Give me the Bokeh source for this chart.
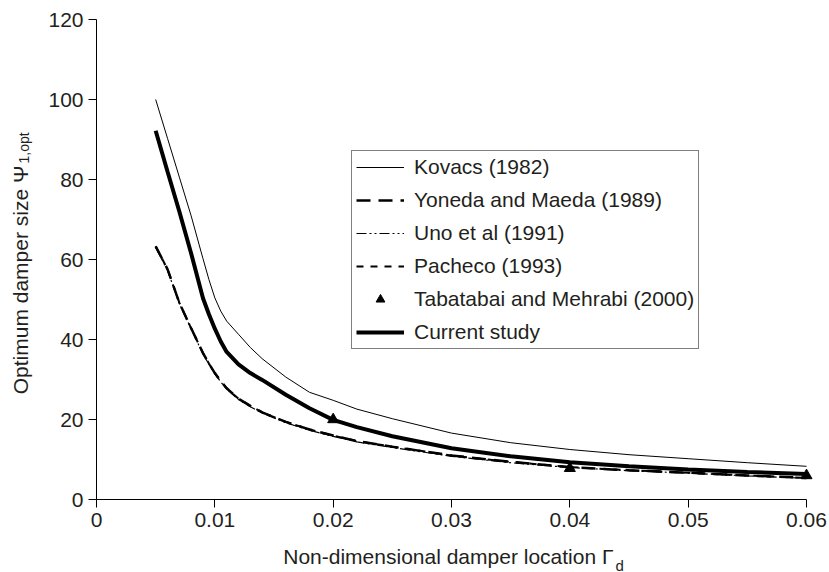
import math
from bokeh.plotting import figure
from bokeh.models import Legend, LegendItem, Label, FixedTicker, Range1d, LinearAxis
from bokeh.embed import file_html
from bokeh.resources import INLINE

# ---- data ----
gamma = [0.005, 0.006, 0.007, 0.008, 0.009, 0.0095, 0.010, 0.0105, 0.011, 0.012,
         0.013, 0.014, 0.016, 0.018, 0.020, 0.022, 0.025, 0.030, 0.035, 0.040,
         0.045, 0.050, 0.055, 0.060]
kovacs = [100.0, 90.3, 80.6, 70.9, 60.2, 55.0, 50.4, 47.1, 44.6, 41.3,
          38.0, 35.2, 30.6, 26.8, 24.8, 22.6, 20.2, 16.6, 14.2, 12.5,
          11.2, 10.2, 9.2, 8.3]
current = [92.2, 82.0, 72.0, 61.5, 50.3, 46.3, 42.7, 39.5, 36.9, 33.8,
           31.6, 29.9, 26.2, 22.8, 19.9, 18.1, 15.8, 12.8, 10.8, 9.3,
           8.3, 7.5, 6.9, 6.4]
yoneda = [63.3, 57.6, 49.2, 42.8, 36.6, 34.0, 31.6, 29.6, 27.8, 25.2,
          23.4, 21.8, 19.4, 17.5, 16.0, 14.6, 13.2, 11.0, 9.4, 8.1,
          7.3, 6.7, 6.0, 5.4]
uno = [63.0, 57.3, 49.0, 42.6, 36.4, 33.8, 31.4, 29.4, 27.6, 25.0,
       23.2, 21.6, 19.2, 17.3, 15.8, 14.4, 13.0, 10.8, 9.2, 8.0,
       7.2, 6.6, 5.9, 5.3]
pacheco = [63.3, 57.6, 49.2, 42.8, 36.6, 34.0, 31.6, 29.6, 27.8, 25.2,
           23.4, 21.8, 19.4, 17.5, 16.0, 14.6, 13.2, 11.0, 9.4, 8.1,
           7.3, 6.7, 6.0, 5.4]
tab_gamma = [0.02, 0.04, 0.06]
tab_psi = [20.0, 7.8, 6.0]

x_ticks = [0, 0.01, 0.02, 0.03, 0.04, 0.05, 0.06]
x_tick_labels = ["0", "0.01", "0.02", "0.03", "0.04", "0.05", "0.06"]
y_ticks = [0, 20, 40, 60, 80, 100, 120]

series_names = ["Kovacs (1982)", "Yoneda and Maeda (1989)", "Uno et al (1991)",
                "Pacheco (1993)", "Tabatabai and Mehrabi (2000)", "Current study"]

FONT = "Liberation Sans"
TXT = "#231f20"

# ---- layout: frame covers the whole canvas, axes are pinned at the data origin ----
W, H = 829, 572
LEFT, RIGHT, TOP, BOTTOM = 96, 806, 19, 499        # pixel box of the data area
XMIN, XMAX, YMIN, YMAX = 0.0, 0.06, 0.0, 120.0
sx = (RIGHT - LEFT) / (XMAX - XMIN)
sy = (BOTTOM - TOP) / (YMAX - YMIN)
x_range = Range1d(XMIN - LEFT / sx, XMAX + (W - RIGHT) / sx)
y_range = Range1d(YMIN - (H - BOTTOM) / sy, YMAX + TOP / sy)

p = figure(width=W, height=H, x_range=x_range, y_range=y_range,
           output_backend="svg", toolbar_location=None,
           x_axis_location=None, y_axis_location=None,
           min_border=0, min_border_left=0, min_border_right=0,
           min_border_top=0, min_border_bottom=0)
for g in p.grid:
    g.visible = False
p.outline_line_color = None
p.background_fill_color = "white"
p.border_fill_color = "white"

xaxis = LinearAxis(fixed_location=YMIN, bounds=(XMIN, XMAX),
                   ticker=FixedTicker(ticks=x_ticks))
xaxis.major_label_overrides = dict(zip(x_ticks, x_tick_labels))
yaxis = LinearAxis(fixed_location=XMIN, bounds=(YMIN, YMAX),
                   ticker=FixedTicker(ticks=y_ticks))
for ax in (xaxis, yaxis):
    ax.axis_line_color = "black"
    ax.axis_line_width = 1
    ax.major_tick_line_color = "black"
    ax.major_tick_in = 0
    ax.major_tick_out = 8
    ax.minor_tick_line_color = None
    ax.major_label_text_font = FONT
    ax.major_label_text_font_size = "21px"
    ax.major_label_text_color = TXT
    ax.major_label_standoff = 5
p.add_layout(xaxis, "below")
p.add_layout(yaxis, "left")

r_yon = p.line(gamma, yoneda, line_color="black", line_width=2.5, line_dash="14 8")
r_pac = p.line(gamma, pacheco, line_color="black", line_width=2, line_dash="7 7")
r_uno = p.line(gamma, uno, line_color="black", line_width=1.2, line_dash="10 3 2 3 2 3")
r_kov = p.line(gamma, kovacs, line_color="black", line_width=1)
r_cur = p.line(gamma, current, line_color="black", line_width=4)
r_tab = p.scatter(tab_gamma, tab_psi, marker="triangle", size=11,
                  fill_color="black", line_color="black")

legend = Legend(items=[
    LegendItem(label=series_names[0], renderers=[r_kov]),
    LegendItem(label=series_names[1], renderers=[r_yon]),
    LegendItem(label=series_names[2], renderers=[r_uno]),
    LegendItem(label=series_names[3], renderers=[r_pac]),
    LegendItem(label=series_names[4], renderers=[r_tab]),
    LegendItem(label=series_names[5], renderers=[r_cur]),
], location=(351, H - 349))
legend.border_line_color = "black"
legend.border_line_width = 1
legend.background_fill_color = "white"
legend.background_fill_alpha = 1
legend.label_text_font = FONT
legend.label_text_font_size = "21px"
legend.label_text_color = TXT
legend.glyph_width = 48
legend.glyph_height = 22
legend.label_height = 22
legend.spacing = 9
legend.padding = 4
legend.margin = 0
legend.label_standoff = 10
p.add_layout(legend)

# axis titles with subscripts (screen units, frame == canvas)
p.add_layout(Label(x=613, y=H - 556.3, x_units="screen", y_units="screen",
                   text="Non-dimensional damper location \u0393", text_align="right",
                   text_baseline="alphabetic", text_font=FONT, text_font_size="21px",
                   text_color=TXT))
p.add_layout(Label(x=615, y=H - 564.5, x_units="screen", y_units="screen",
                   text="d", text_align="left", text_baseline="alphabetic",
                   text_font=FONT, text_font_size="15px", text_color=TXT))
p.add_layout(Label(x=19.5, y=H - 165, x_units="screen", y_units="screen",
                   text="Optimum damper size \u03a8", angle=math.pi / 2,
                   text_align="right", text_baseline="alphabetic", text_font=FONT,
                   text_font_size="21px", text_color=TXT))
p.add_layout(Label(x=23.7, y=H - 163, x_units="screen", y_units="screen",
                   text="1,opt", angle=math.pi / 2, text_align="left",
                   text_baseline="alphabetic", text_font=FONT, text_font_size="14px",
                   text_color=TXT))

open("out.html", "w").write(file_html(p, INLINE))
